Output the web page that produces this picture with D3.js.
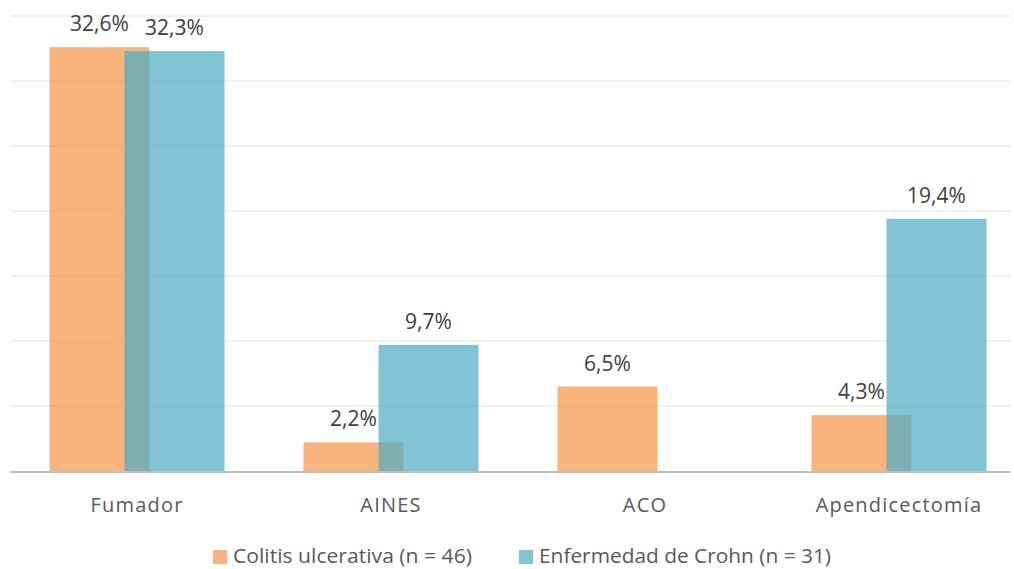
<!DOCTYPE html>
<html>
<head>
<meta charset="utf-8">
<script src="https://cdn.jsdelivr.net/npm/d3@7"></script>
<style>
  body { margin: 0; background: #fff; }
  svg text { font-family: "Open Sans", sans-serif; }
</style>
</head>
<body>
<div class="container"></div>
<script>
"use strict";

var width = 1014;
var height = 569;

// data
var categories = ["Fumador", "AINES", "ACO", "Apendicectomía"];
var seriesNames = ["Colitis ulcerativa (n = 46)", "Enfermedad de Crohn (n = 31)"];
var colitis = [32.6, 2.2, 6.5, 4.3];
var crohn = [32.3, 9.7, null, 19.4];
var yTicks = [0, 5, 10, 15, 20, 25, 30, 35];

var colors = ["#f59445", "#4aabc4"];

var x = d3.scaleBand()
    .domain(categories)
    .range([10, 1026]);

var y = d3.scaleLinear()
    .domain([0, 35])
    .range([471, 16]);

var barW = 100;
var overlap = 25;

var svg = d3.select(".container").append("svg")
    .attr("width", width)
    .attr("height", height);

// gridlines
svg.append("g")
    .selectAll("line")
    .data(yTicks.slice(1))
    .enter().append("line")
    .attr("x1", 10)
    .attr("x2", 1010)
    .attr("y1", d => y(d))
    .attr("y2", d => y(d))
    .attr("stroke", "#ebebeb")
    .attr("stroke-width", 1.3);

var series = [colitis, crohn];

series.forEach(function(vals, si) {
    var data = categories.map((c, i) => ({cat: c, v: vals[i]})).filter(d => d.v != null);
    var offset = si == 0 ? -(barW - overlap / 2) : -overlap / 2;
    var g = svg.append("g");
    g.selectAll("rect")
        .data(data)
        .enter().append("rect")
        .attr("x", d => x(d.cat) + x.bandwidth() / 2 + offset)
        .attr("y", d => y(d.v))
        .attr("width", barW)
        .attr("height", d => y(0) - y(d.v))
        .attr("fill", colors[si])
        .attr("fill-opacity", 0.7);

    g.selectAll("text")
        .data(data)
        .enter().append("text")
        .attr("x", d => x(d.cat) + x.bandwidth() / 2 + offset + barW / 2)
        .attr("y", d => y(d.v) - 16)
        .attr("text-anchor", "middle")
        .attr("font-size", 21)
        .attr("fill", "#404040")
        .text(d => d.v.toFixed(1).replace(".", ",") + "%");
});

// baseline
svg.append("line")
    .attr("x1", 10)
    .attr("x2", 1010)
    .attr("y1", y(0) + 1)
    .attr("y2", y(0) + 1)
    .attr("stroke", "#bfbfbf")
    .attr("stroke-width", 2);

// category labels
svg.append("g")
    .selectAll("text")
    .data(categories)
    .enter().append("text")
    .attr("x", d => x(d) + x.bandwidth() / 2)
    .attr("y", 512)
    .attr("text-anchor", "middle")
    .attr("font-size", 20)
    .attr("letter-spacing", 1.2)
    .attr("fill", "#595959")
    .text(d => d);

// legend
var legendX = [213, 519];
var legend = svg.append("g")
    .selectAll("g")
    .data(seriesNames)
    .enter().append("g")
    .attr("transform", (d, i) => "translate(" + legendX[i] + ",557)");

legend.append("rect")
    .attr("x", 0)
    .attr("y", -7)
    .attr("width", 14)
    .attr("height", 14)
    .attr("fill", (d, i) => colors[i])
    .attr("fill-opacity", 0.7);

legend.append("text")
    .attr("x", 20)
    .attr("y", 6)
    .attr("font-size", 20)
    .attr("fill", "#595959")
    .attr("textLength", (d, i) => i == 0 ? 239 : 292)
    .attr("lengthAdjust", "spacingAndGlyphs")
    .text(d => d);
</script>
</body>
</html>
